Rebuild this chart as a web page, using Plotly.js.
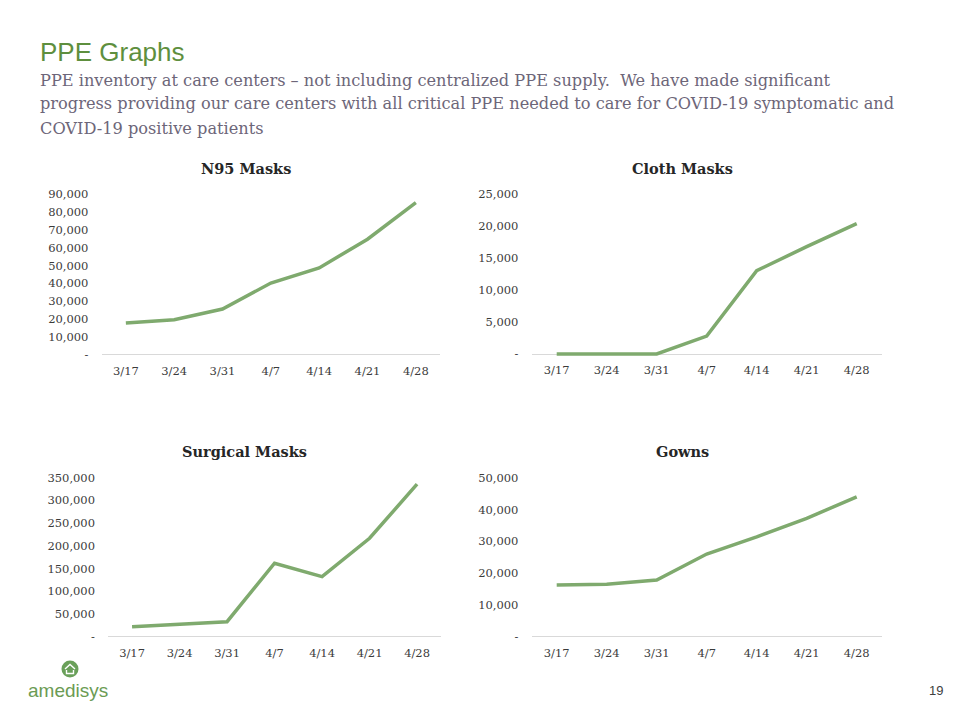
<!DOCTYPE html>
<html>
<head>
<meta charset="utf-8">
<script src="https://cdn.plot.ly/plotly-3.0.1.min.js"></script>
<style>html,body{margin:0;padding:0;background:#fff;}#chart{width:960px;height:720px;}</style>
</head>
<body>
<div id="chart"></div>
<script>
// ---- data ----
const weeks = ["3/17", "3/24", "3/31", "4/7", "4/14", "4/21", "4/28"];
const n95Masks = [17800, 19600, 25600, 40200, 48700, 64800, 85300];
const clothMasks = [0, 0, 0, 2800, 13050, 16800, 20400];
const surgicalMasks = [22000, 27300, 33000, 161700, 132200, 216700, 335700];
const gowns = [16250, 16500, 17800, 26000, 31400, 37200, 44000];

const n95Ticks = [0, 10000, 20000, 30000, 40000, 50000, 60000, 70000, 80000, 90000];
const n95TickText = ["-", "10,000", "20,000", "30,000", "40,000", "50,000", "60,000", "70,000", "80,000", "90,000"];
const clothTicks = [0, 5000, 10000, 15000, 20000, 25000];
const clothTickText = ["-", "5,000", "10,000", "15,000", "20,000", "25,000"];
const surgicalTicks = [0, 50000, 100000, 150000, 200000, 250000, 300000, 350000];
const surgicalTickText = ["-", "50,000", "100,000", "150,000", "200,000", "250,000", "300,000", "350,000"];
const gownTicks = [0, 10000, 20000, 30000, 40000, 50000];
const gownTickText = ["-", "10,000", "20,000", "30,000", "40,000", "50,000"];

const chartTitles = ["N95 Masks", "Cloth Masks", "Surgical Masks", "Gowns"];
const pageTitle = "PPE Graphs";
const subtitleLines = [
  "PPE inventory at care centers \u2013 not including centralized PPE supply.  We have made significant",
  "progress providing our care centers with all critical PPE needed to care for COVID-19 symptomatic and",
  "COVID-19 positive patients"
];

// ---- layout helpers (pixel geometry) ----
const W = 960, H = 720;
const LINE = "rgb(127,170,110)";
const TICKCOL = "#3b3b3b";
const SERIF = "DejaVu Serif, Georgia, serif";
const pad = 3;
function yAxisCfg(y0px, topPx, vmax, tv, tt) {
  const s = (y0px - topPx) / vmax;
  return {
    domain: [1 - (y0px + pad) / H, 1 - topPx / H],
    range: [-pad / s, vmax],
    tickvals: tv, ticktext: tt,
    showgrid: false, showline: false,
    zeroline: true, zerolinecolor: "#d9d9d9", zerolinewidth: 1,
    ticks: "outside", ticklen: 10, tickcolor: "rgba(0,0,0,0)",
    tickfont: {family: SERIF, size: 11.5, color: TICKCOL},
    fixedrange: true
  };
}
function xAxisCfg(x0px, x1px, anchor) {
  return {
    domain: [x0px / W, x1px / W],
    range: [-0.5, weeks.length - 0.5],
    type: "category", anchor: anchor,
    showgrid: false, showline: false, zeroline: false,
    ticks: "outside", ticklen: 2, tickcolor: "rgba(0,0,0,0)",
    tickfont: {family: SERIF, size: 11.5, color: TICKCOL},
    fixedrange: true
  };
}
function trace(vals, xa, ya) {
  return {x: weeks, y: vals, xaxis: xa, yaxis: ya, type: "scatter", mode: "lines",
          line: {color: LINE, width: 3.5}, hoverinfo: "skip", showlegend: false};
}

const data = [
  trace(n95Masks, "x", "y"),
  trace(clothMasks, "x2", "y2"),
  trace(surgicalMasks, "x3", "y3"),
  trace(gowns, "x4", "y4")
];

function ann(text, xpx, ypx, opts) {
  return Object.assign({text: text, x: xpx / W, y: 1 - ypx / H, xref: "paper", yref: "paper",
    showarrow: false, xanchor: "center", yanchor: "middle"}, opts);
}
const titleFont = {family: SERIF, size: 14.5, color: "#262626", weight: "bold"};
const subFont = {family: SERIF, size: 16.2, color: "#6d6679"};

const annotations = [
  ann(pageTitle, 38, 52, {xanchor: "left", font: {family: "Liberation Sans, Arial, sans-serif", size: 26, color: "#5e8f3e"}}),
  ann(chartTitles[0], 246, 168, {font: titleFont}),
  ann(chartTitles[1], 682, 168, {font: titleFont}),
  ann(chartTitles[2], 245, 451, {font: titleFont}),
  ann(chartTitles[3], 682, 451, {font: titleFont}),
  ann("amedisys", 68, 690, {font: {family: "Liberation Sans, Arial, sans-serif", size: 19, color: "#6b9b54"}}),
  ann("19", 936, 690, {font: {family: "Liberation Sans, Arial, sans-serif", size: 13, color: "#404040"}})
];
subtitleLines.forEach(function (t, i) {
  annotations.push(ann(t, 38, 80 + 24 * i, {xanchor: "left", align: "left", font: subFont}));
});

const layout = {
  width: W, height: H,
  margin: {l: 0, r: 0, t: 0, b: 0},
  paper_bgcolor: "#ffffff", plot_bgcolor: "rgba(0,0,0,0)",
  showlegend: false,
  xaxis: xAxisCfg(101.7, 440, "y"),
  yaxis: yAxisCfg(354.7, 194.3, 90000, n95Ticks, n95TickText),
  xaxis2: xAxisCfg(531.7, 881.7, "y2"),
  yaxis2: Object.assign(yAxisCfg(354, 194.3, 25000, clothTicks, clothTickText), {anchor: "x2"}),
  xaxis3: xAxisCfg(108.3, 440.8, "y3"),
  yaxis3: Object.assign(yAxisCfg(636.7, 477.7, 350000, surgicalTicks, surgicalTickText), {anchor: "x3"}),
  xaxis4: xAxisCfg(531.7, 881.7, "y4"),
  yaxis4: Object.assign(yAxisCfg(636.7, 477.7, 50000, gownTicks, gownTickText), {anchor: "x4"}),
  annotations: annotations,
  shapes: [
    {type: "circle", xref: "paper", yref: "paper", xsizemode: "pixel", ysizemode: "pixel",
     xanchor: 70 / W, yanchor: 1 - 669 / H, x0: -8.5, x1: 8.5, y0: -8.5, y1: 8.5,
     fillcolor: "#6aa05a", line: {width: 0}},
    {type: "path", xref: "paper", yref: "paper", xsizemode: "pixel", ysizemode: "pixel",
     xanchor: 70 / W, yanchor: 1 - 669 / H,
     path: "M-5,0 L0,4.5 L5,0 M-3.5,-1 L-3.5,-4.5 L3.5,-4.5 L3.5,-1",
     line: {color: "#ffffff", width: 1.4}}
  ]
};

Plotly.newPlot("chart", data, layout, {staticPlot: true, displayModeBar: false});
</script>
</body>
</html>
